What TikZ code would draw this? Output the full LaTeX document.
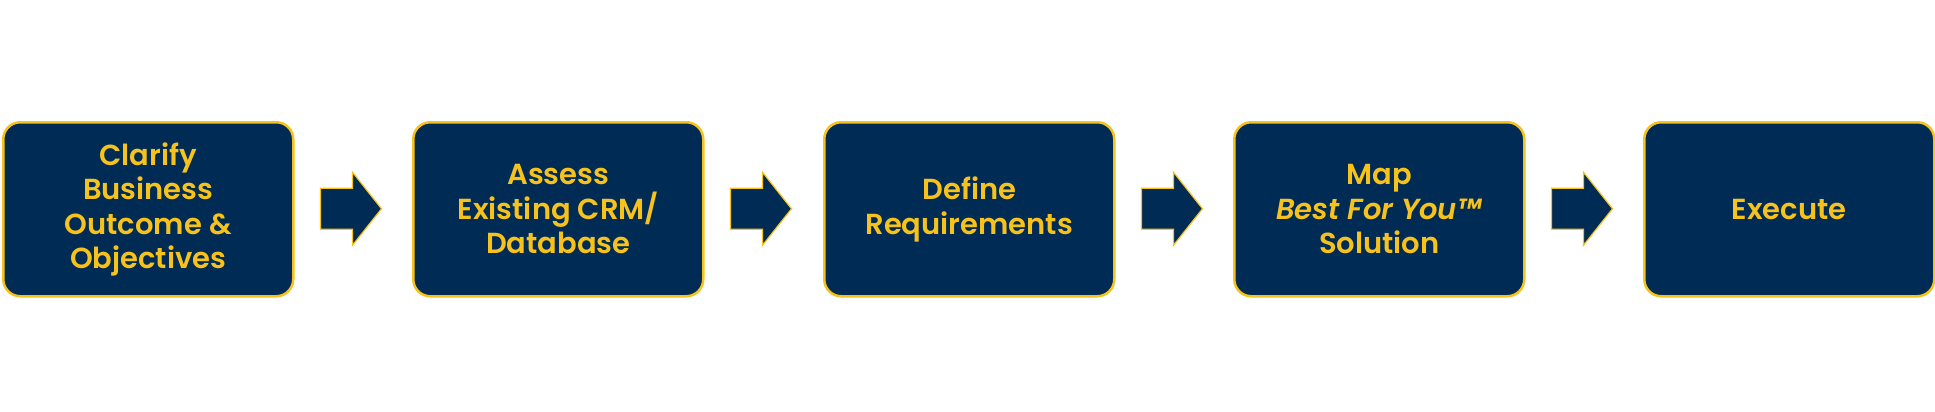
\documentclass[tikz,border=0pt]{standalone}
\usepackage{fontspec}
\setmainfont{Poppins}[UprightFont=* SemiBold,ItalicFont=* SemiBold Italic]
\definecolor{navy}{HTML}{002B54}
\definecolor{gold}{HTML}{F7C21C}
\begin{document}
\begin{tikzpicture}[x=1pt,y=-1pt,
  stepbox/.style={draw=gold,line width=2.5pt,fill=navy,rounded corners=17pt,minimum width=290pt,minimum height=174pt,text=gold,align=center,font=\fontsize{29}{34.5}\selectfont,inner sep=0pt,anchor=north west},
  arr/.style={draw=gold,fill=navy,line width=1.2pt}]
\useasboundingbox (0,0) rectangle (1935,412);
\node[stepbox] (s1) at (2,121) {Clarify\\Business\\Outcome \&\\Objectives};
\node[stepbox] (s2) at (412,121) {Assess\\Existing CRM/\\Database};
\node[stepbox] (s3) at (823,121) {Define\\Requirements};
\node[stepbox] (s4) at (1233,121) {Map\\\textit{Best For You\texttrademark}\\Solution};
\node[stepbox] (s5) at (1643,121) {Execute};
\foreach \i in {1,...,4}{
  \coordinate (a\i) at ([xshift=26pt]s\i.east);
  \draw[arr] (a\i) ++(0,-21) -- ++(32,0) -- ++(0,-16) -- ++(29,36.5) -- ++(-29,36.5) -- ++(0,-16) -- ++(-32,0) -- cycle;
}
\end{tikzpicture}
\end{document}
